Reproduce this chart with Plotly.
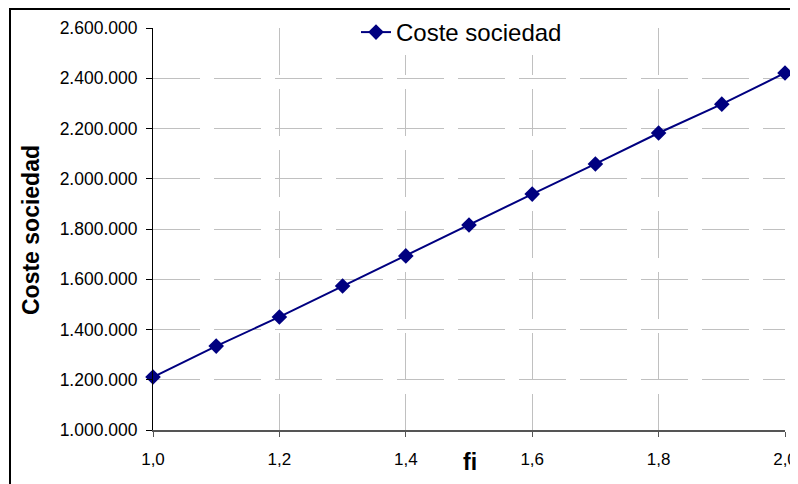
import plotly.graph_objects as go

fi = [1.0, 1.1, 1.2, 1.3, 1.4, 1.5, 1.6, 1.7, 1.8, 1.9, 2.0]
coste = [1211000, 1334000, 1450000, 1573000, 1693000, 1816000, 1939000, 2059000, 2182000, 2297000, 2421000]
x_ticks = [1.0, 1.2, 1.4, 1.6, 1.8, 2.0]
y_ticks = [1000000, 1200000, 1400000, 1600000, 1800000, 2000000, 2200000, 2400000, 2600000]

# page offset of the figure (default body margin)
OX, OY = 8, 8
W, H = 798 - OX, 484 - OY
# plot area in page pixels: x 153..785, y 28..430
PL, PR, PT, PB = 153, 785, 28, 430
L, R, T, B = PL - OX, 798 - PR, PT - OY, 484 - PB
pw, ph = PR - PL, PB - PT


def px(xp):
    return (xp - PL) / pw


def py(yp):
    return (PB - yp) / ph


fig = go.Figure()
fig.add_trace(go.Scatter(
    x=fi, y=coste, mode="lines+markers", name="Coste sociedad",
    line=dict(color="#000080", width=2),
    marker=dict(symbol="diamond", size=12, color="#000080"),
    cliponaxis=False,
))

font = "Liberation Sans, Arial, sans-serif"
fig.update_layout(
    width=W, height=H,
    margin=dict(l=L, r=R, t=T, b=B, autoexpand=False),
    paper_bgcolor="white", plot_bgcolor="white",
    separators=",.",
    font=dict(family=font, size=17, color="black"),
    showlegend=True,
    legend=dict(x=px(356), xanchor="left", y=py(10), yanchor="top",
                bgcolor="white", font=dict(size=24, family=font),
                orientation="h", itemwidth=30),
    xaxis=dict(range=[1.0, 2.0], tickvals=x_ticks, tickformat=".1f",
               showgrid=True, gridcolor="#c0c0c0", griddash="47px,14px", gridwidth=1,
               showline=True, linecolor="#555555", linewidth=2,
               ticks="outside", ticklen=5, tickcolor="#555555",
               ticklabelstandoff=8,
               tickfont=dict(size=17), zeroline=False),
    yaxis=dict(range=[1000000, 2600000], tickvals=y_ticks, tickformat=",d",
               showgrid=True, gridcolor="#c0c0c0", griddash="47px,14px", gridwidth=1,
               showline=True, linecolor="black", linewidth=1,
               ticks="outside", ticklen=6, tickcolor="black",
               ticklabelstandoff=5,
               tickfont=dict(size=17.5), zeroline=False),
    annotations=[
        dict(text="<b>Coste sociedad</b>", xref="paper", yref="paper",
             x=px(31), y=py(230), textangle=-90, showarrow=False,
             font=dict(size=23, family=font), xanchor="center", yanchor="middle"),
        dict(text="<b>fi</b>", xref="paper", yref="paper",
             x=px(470), y=py(462), showarrow=False,
             font=dict(size=23, family=font), xanchor="center", yanchor="middle"),
    ],
    shapes=[
        dict(type="rect", xref="paper", yref="paper",
             x0=px(10), x1=px(830), y0=py(520), y1=py(9),
             line=dict(color="black", width=2), fillcolor="rgba(0,0,0,0)", layer="below"),
    ],
)

fig.write_html("out.html")
